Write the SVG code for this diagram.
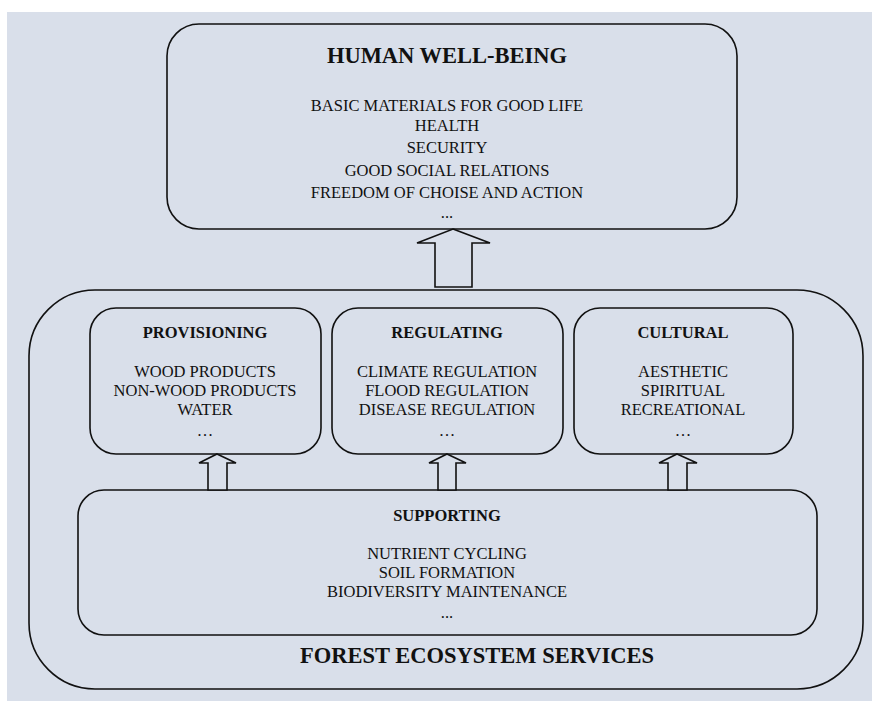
<svg xmlns="http://www.w3.org/2000/svg" width="872" height="701" viewBox="0 0 872 701">
<style>
.box{fill:none;stroke:#111;stroke-width:1.6}
.arr{fill:#d9dfea;stroke:#111;stroke-width:1.6;stroke-linejoin:miter}
text{font-family:"Liberation Serif","Times New Roman",serif;fill:#111;text-anchor:middle}
.t{font-weight:bold;font-size:16.5px}
.i{font-size:16.5px}
.big{font-weight:bold;font-size:22.5px}
</style>
<rect x="7" y="12" width="865" height="689" fill="#d9dfea"/>
<g id="forest">
<rect class="box" x="29" y="290" width="834" height="399" rx="66" ry="66"/>
<text class="big" x="477" y="663">FOREST ECOSYSTEM SERVICES</text>
</g>
<g id="human">
<rect class="box" x="167" y="24" width="570" height="205" rx="32" ry="32"/>
<text class="big" x="447" y="63">HUMAN WELL-BEING</text>
<text class="i" x="447" y="111">BASIC MATERIALS FOR GOOD LIFE</text>
<text class="i" x="447" y="131">HEALTH</text>
<text class="i" x="447" y="153">SECURITY</text>
<text class="i" x="447" y="176">GOOD SOCIAL RELATIONS</text>
<text class="i" x="447" y="198">FREEDOM OF CHOISE AND ACTION</text>
<text class="i" x="447" y="218" font-size="13">...</text>
</g>
<g id="provisioning">
<rect class="box" x="90" y="308" width="231" height="146" rx="26" ry="26"/>
<text class="t" x="205" y="338">PROVISIONING</text>
<text class="i" x="205" y="377">WOOD PRODUCTS</text>
<text class="i" x="205" y="396">NON-WOOD PRODUCTS</text>
<text class="i" x="205" y="415">WATER</text>
<text class="i" x="205" y="436">…</text>
</g>
<g id="regulating">
<rect class="box" x="332" y="308" width="231" height="146" rx="26" ry="26"/>
<text class="t" x="447" y="338">REGULATING</text>
<text class="i" x="447" y="377">CLIMATE REGULATION</text>
<text class="i" x="447" y="396">FLOOD REGULATION</text>
<text class="i" x="447" y="415">DISEASE REGULATION</text>
<text class="i" x="447" y="436">…</text>
</g>
<g id="cultural">
<rect class="box" x="574" y="308" width="219" height="146" rx="26" ry="26"/>
<text class="t" x="683" y="338">CULTURAL</text>
<text class="i" x="683" y="377">AESTHETIC</text>
<text class="i" x="683" y="396">SPIRITUAL</text>
<text class="i" x="683" y="415">RECREATIONAL</text>
<text class="i" x="683" y="436">…</text>
</g>
<g id="supporting">
<rect class="box" x="78" y="490" width="739" height="145" rx="26" ry="26"/>
<text class="t" x="447" y="521">SUPPORTING</text>
<text class="i" x="447" y="559">NUTRIENT CYCLING</text>
<text class="i" x="447" y="578">SOIL FORMATION</text>
<text class="i" x="447" y="597">BIODIVERSITY MAINTENANCE</text>
<text class="i" x="447" y="618" font-size="13">...</text>
</g>
<g id="connectors">
<polygon class="arr" points="453,229 490,243 472,243 472,287 435,287 435,243 417,243"/>
<polygon class="arr" points="217,454 236,463 227,463 227,490 208,490 208,463 199,463"/>
<polygon class="arr" points="447,454 466,463 456,463 456,490 438,490 438,463 429,463"/>
<polygon class="arr" points="677,454 697,463 687,463 687,490 668,490 668,463 659,463"/>
</g>
</svg>
